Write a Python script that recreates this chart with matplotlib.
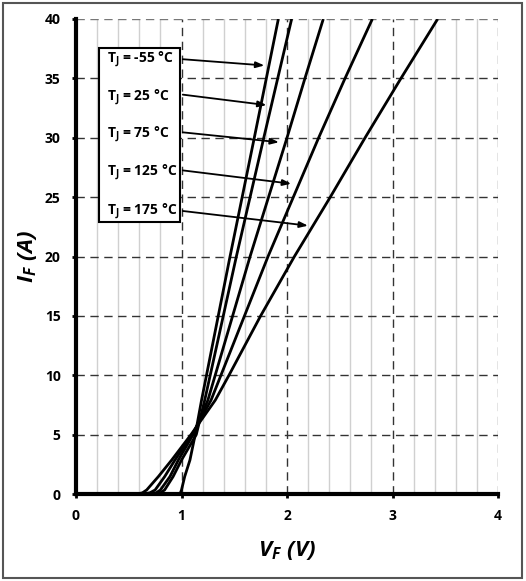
import matplotlib
matplotlib.use('Agg')
from matplotlib import pyplot as plt
from matplotlib.patches import Rectangle

plt.rcParams['font.family'] = ['Open Sans', 'DejaVu Sans']
plt.rcParams['mathtext.fontset'] = 'custom'
plt.rcParams['mathtext.rm'] = 'Open Sans:bold:italic'
plt.rcParams['mathtext.it'] = 'Open Sans:bold:italic'
plt.rcParams['mathtext.bf'] = 'Open Sans:bold'

# forward characteristics (V_F in V, I_F in A)
v_m55 = [0.0, 0.97, 0.99, 1.00, 1.03, 1.08, 1.13, 1.19, 1.46, 1.69, 1.918]
i_m55 = [0.0, 0.0, 0.1, 0.34, 1.46, 2.86, 5.0, 7.9, 20.0, 30.0, 40.0]

v_25 = [0.0, 0.76, 0.80, 0.84, 0.92, 1.00, 1.14, 1.22, 1.52, 1.78, 2.044]
i_25 = [0.0, 0.0, 0.1, 0.34, 1.46, 2.86, 5.0, 7.9, 20.0, 30.0, 40.0]

v_75 = [0.0, 0.71, 0.76, 0.80, 0.89, 0.97, 1.11, 1.25, 1.65, 2.00, 2.17, 2.344]
i_75 = [0.0, 0.0, 0.1, 0.34, 1.46, 2.86, 5.0, 7.9, 20.0, 30.0, 35.0, 40.0]

v_125 = [0.0, 0.64, 0.70, 0.75, 0.84, 0.938, 1.10, 1.28, 1.82, 2.30, 2.55, 2.809]
i_125 = [0.0, 0.0, 0.1, 0.34, 1.46, 2.86, 5.0, 7.9, 20.0, 30.0, 35.0, 40.0]

v_175 = [0.0, 0.58, 0.63, 0.67, 0.78, 0.907, 1.09, 1.32, 1.45, 1.75, 2.07, 2.41, 2.74, 3.08, 3.428]
i_175 = [0.0, 0.0, 0.1, 0.34, 1.46, 2.86, 5.0, 7.9, 10.0, 15.0, 20.0, 25.0, 30.0, 35.0, 40.0]

labels = ['T$_\\mathbf{J}$ = -55 °C', 'T$_\\mathbf{J}$ = 25 °C', 'T$_\\mathbf{J}$ = 75 °C',
          'T$_\\mathbf{J}$ = 125 °C', 'T$_\\mathbf{J}$ = 175 °C']

x_ticks = [0, 1, 2, 3, 4]
y_ticks = [0, 5, 10, 15, 20, 25, 30, 35, 40]

fig = plt.figure(figsize=(5.26, 5.81), dpi=100)
ax = fig.add_axes([76 / 526, 87 / 581, 422 / 526, 475 / 581])

# light minor grid every 0.2 V
for xv in [k * 0.2 for k in range(1, 20)]:
    if abs(xv - round(xv)) > 1e-6:
        ax.axvline(xv, color='#d0d0d0', lw=1.0, zorder=0)
for xv in x_ticks[1:]:
    c = '#777777' if xv == 4 else '#333333'
    ax.axvline(xv, color=c, lw=1.0, ls=(0, (6, 4)), zorder=1)
for yv in y_ticks[1:]:
    c = '#777777' if yv == 40 else '#333333'
    ax.axhline(yv, color=c, lw=1.0, ls=(0, (6, 4)), zorder=1)

for v, i in [(v_m55, i_m55), (v_25, i_25), (v_75, i_75), (v_125, i_125), (v_175, i_175)]:
    ax.plot(v, i, color='black', lw=2.0, solid_capstyle='butt', zorder=3)

ax.set_xlim(0, 4)
ax.set_ylim(0, 40)
ax.set_xticks(x_ticks)
ax.set_yticks(y_ticks)
ax.tick_params(axis='both', direction='out', length=3, width=2, labelsize=10, pad=8)
for t in ax.get_xticklabels() + ax.get_yticklabels():
    t.set_fontweight('bold')

for s in ['top', 'right']:
    ax.spines[s].set_visible(False)
for s in ['left', 'bottom']:
    ax.spines[s].set_linewidth(3)
    ax.spines[s].set_zorder(5)

ax.set_xlabel(r'$V_F\ (V)$', fontsize=16, labelpad=11)
ax.set_ylabel(r'$I_F\ (A)$', fontsize=16, labelpad=4)

# legend box with arrows
ax.add_patch(Rectangle((0.22, 22.9), 0.77, 14.7, facecolor='white', edgecolor='black', lw=1.5, zorder=4))
label_y = [36.6, 33.4, 30.3, 27.1, 23.8]
arrow_start = [36.63, 33.66, 30.48, 27.28, 23.86]
arrow_end = [(1.812, 36.07), (1.832, 32.72), (1.950, 29.6), (2.066, 26.10), (2.225, 22.57)]
for lab, ly, sy, end in zip(labels, label_y, arrow_start, arrow_end):
    ax.text(0.29, ly, lab, fontsize=10, fontweight='bold', va='center', ha='left', zorder=6)
    ax.annotate('', xy=end, xytext=(0.986, sy),
                arrowprops=dict(arrowstyle='-|>,head_length=0.5,head_width=0.18', color='black', lw=1.3),
                zorder=6)

fig.patches.append(Rectangle((3 / 526, 3 / 581), 519 / 526, 575 / 581, transform=fig.transFigure,
                             fill=False, edgecolor='#555555', lw=1.5))

fig.savefig('out.png', dpi=100)
